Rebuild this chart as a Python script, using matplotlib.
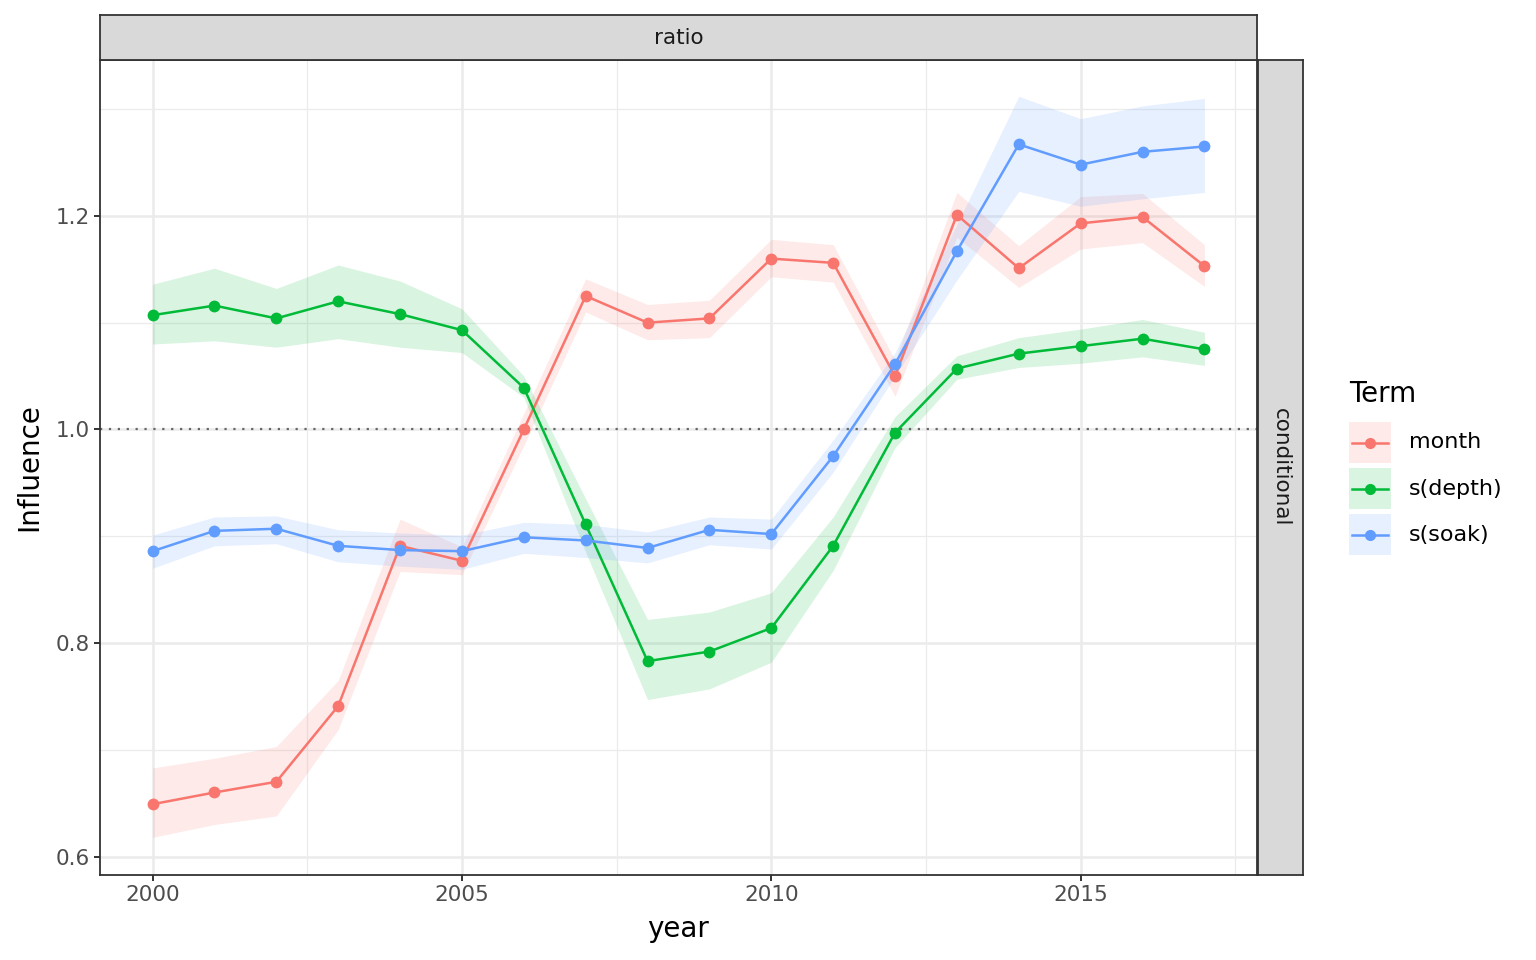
import matplotlib
matplotlib.use("Agg")
import matplotlib.pyplot as plt
from matplotlib.patches import Rectangle

plt.rcParams['font.family'] = ['DejaVu Sans']

# data
years = list(range(2000, 2018))
terms = ['month', 's(depth)', 's(soak)']
colors = ['#F8766D', '#00BA38', '#619CFF']

month = [0.649, 0.660, 0.670, 0.741, 0.891, 0.877, 1.000, 1.125, 1.100,
         1.104, 1.160, 1.156, 1.050, 1.201, 1.151, 1.193, 1.199, 1.153]
month_lo = [0.618, 0.630, 0.638, 0.719, 0.867, 0.864, 0.985, 1.110, 1.084,
            1.086, 1.143, 1.138, 1.031, 1.180, 1.133, 1.169, 1.175, 1.134]
month_hi = [0.683, 0.692, 0.703, 0.765, 0.916, 0.890, 1.015, 1.141, 1.117,
            1.121, 1.178, 1.173, 1.065, 1.222, 1.172, 1.218, 1.221, 1.173]

depth = [1.107, 1.116, 1.104, 1.120, 1.108, 1.093, 1.039, 0.911, 0.783,
         0.792, 0.814, 0.891, 0.997, 1.057, 1.071, 1.078, 1.085, 1.075]
depth_lo = [1.080, 1.083, 1.077, 1.085, 1.077, 1.072, 1.030, 0.885, 0.747,
            0.757, 0.782, 0.868, 0.983, 1.047, 1.058, 1.062, 1.068, 1.060]
depth_hi = [1.136, 1.151, 1.132, 1.154, 1.139, 1.113, 1.050, 0.935, 0.822,
            0.829, 0.847, 0.918, 1.012, 1.069, 1.086, 1.094, 1.103, 1.091]

soak = [0.886, 0.905, 0.907, 0.891, 0.887, 0.886, 0.899, 0.896, 0.889,
        0.906, 0.902, 0.975, 1.061, 1.167, 1.267, 1.248, 1.260, 1.265]
soak_lo = [0.870, 0.891, 0.893, 0.876, 0.872, 0.869, 0.884, 0.880, 0.875,
           0.892, 0.888, 0.960, 1.050, 1.140, 1.223, 1.209, 1.216, 1.222]
soak_hi = [0.901, 0.918, 0.919, 0.906, 0.903, 0.901, 0.913, 0.911, 0.904,
           0.918, 0.916, 0.990, 1.072, 1.192, 1.312, 1.291, 1.303, 1.310]

series = [(month, month_lo, month_hi), (depth, depth_lo, depth_hi), (soak, soak_lo, soak_hi)]

W, H = 1536, 960
fig = plt.figure(figsize=(W / 100, H / 100), dpi=100)

def box(x0, y0, x1, y1):
    return [x0 / W, 1 - y1 / H, (x1 - x0) / W, (y1 - y0) / H]

ax = fig.add_axes(box(100, 60, 1257, 875))

# ribbons, then lines, then points (ggplot layer order)
for (v, lo, hi), c in zip(series, colors):
    ax.fill_between(years, lo, hi, color=c, alpha=0.15, lw=0, zorder=2)
for (v, lo, hi), c in zip(series, colors):
    ax.plot(years, v, color=c, lw=1.8, zorder=3)
for (v, lo, hi), c in zip(series, colors):
    ax.plot(years, v, 'o', color=c, ms=8.5, mew=0, zorder=4)

ax.axhline(1.0, color='#666666', ls=(0, (1, 3)), lw=1.6, zorder=2.5)

ax.set_xlim(1999.15, 2017.85)
ax.set_ylim(0.5827, 1.346)
ax.set_xticks([2000, 2005, 2010, 2015])
ax.set_xticks([2002.5, 2007.5, 2012.5, 2017.5], minor=True)
ax.set_yticks([0.6, 0.8, 1.0, 1.2])
ax.set_yticklabels(['0.6', '0.8', '1.0', '1.2'])
ax.set_yticks([0.7, 0.9, 1.1, 1.3], minor=True)
ax.grid(which='major', color='#EBEBEB', lw=1.8, zorder=0)
ax.grid(which='minor', color='#EBEBEB', lw=0.9, zorder=0)
ax.set_axisbelow(True)
ax.tick_params(which='major', length=4.5, width=1.4, color='#333333',
               labelsize=15.5, labelcolor='#4D4D4D', pad=3)
ax.tick_params(which='minor', length=0)
for s in ax.spines.values():
    s.set_color('#333333')
    s.set_linewidth(1.3)

ax.set_xlabel('year', fontsize=20, color='black', labelpad=7)
ax.set_ylabel('Influence', fontsize=20, color='black', labelpad=9)

# facet strips
top = fig.add_axes(box(100, 15, 1257, 60))
top.set_facecolor('#D9D9D9')
top.set_xticks([]); top.set_yticks([])
for s in top.spines.values():
    s.set_color('#333333'); s.set_linewidth(1.3)
top.text(0.5, 0.5, 'ratio', ha='center', va='center', fontsize=15.5, color='#1A1A1A',
         transform=top.transAxes)

right = fig.add_axes(box(1258, 60, 1303, 875))
right.set_facecolor('#D9D9D9')
right.set_xticks([]); right.set_yticks([])
for s in right.spines.values():
    s.set_color('#333333'); s.set_linewidth(1.3)
right.text(0.5, 0.5, 'conditional', ha='center', va='center', rotation=-90,
           fontsize=15.5, color='#1A1A1A', transform=right.transAxes)

# legend drawn by hand, in pixel units
lg = fig.add_axes(box(1330, 360, 1536, 580))
lg.set_xlim(1330, 1536)
lg.set_ylim(580, 360)
lg.axis('off')
lg.text(1349, 402, 'Term', fontsize=20, color='black', ha='left', va='baseline')
for i, (t, c) in enumerate(zip(terms, colors)):
    y0 = 422 + 46 * i
    lg.add_patch(Rectangle((1349, y0), 42, 41, facecolor=c, alpha=0.15, lw=0))
    yc = y0 + 20.5
    lg.plot([1352, 1388], [yc, yc], color=c, lw=1.8)
    lg.plot([1370], [yc], 'o', color=c, ms=8, mew=0)
    lg.text(1409, yc, t, fontsize=16, color='black', ha='left', va='center')

fig.savefig('out.png', dpi=100)
